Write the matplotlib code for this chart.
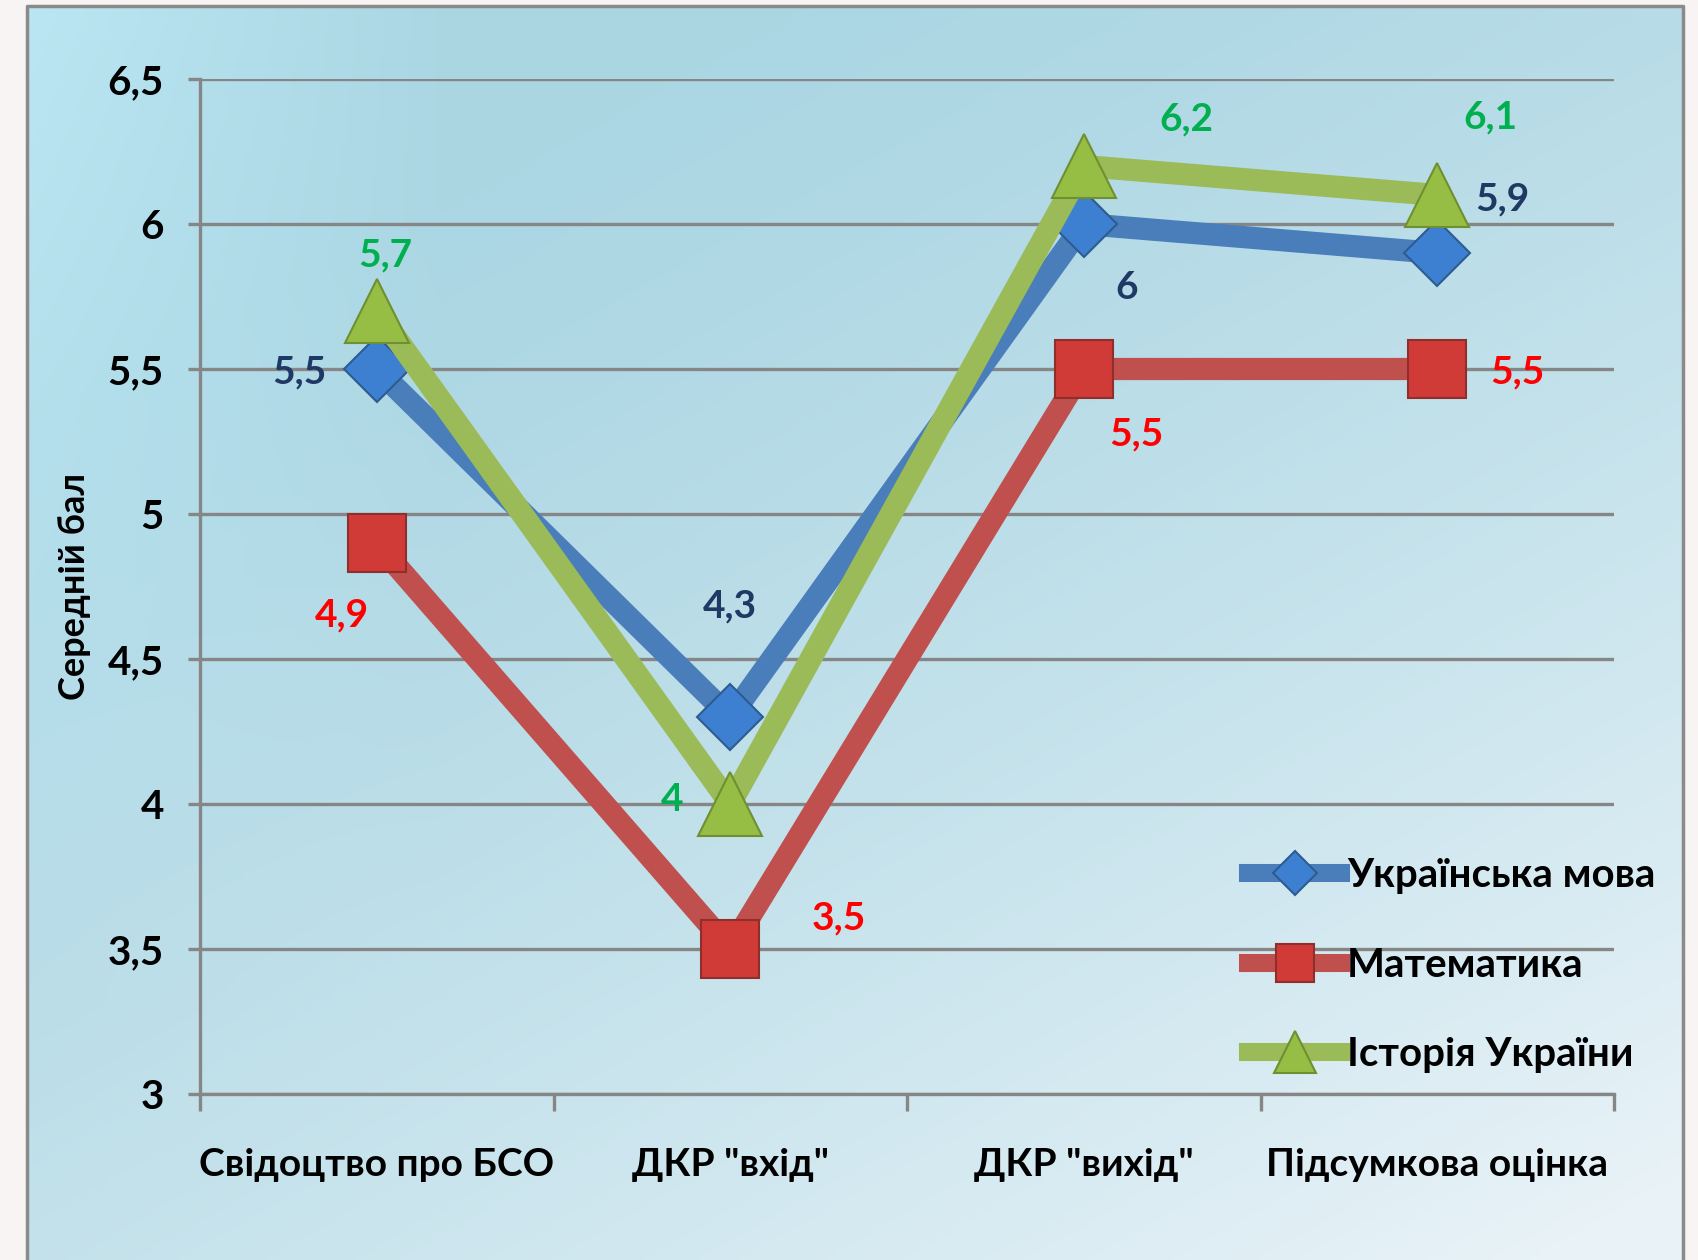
import numpy as np
import matplotlib
matplotlib.use('Agg')
import matplotlib.pyplot as plt
from matplotlib.patches import Rectangle
from matplotlib.ticker import FixedLocator

plt.rcParams['font.family'] = ['Lato', 'Noto Sans', 'DejaVu Sans']
plt.rcParams['font.weight'] = 'bold'
plt.rcParams['axes.labelweight'] = 'bold'

categories = ['Свідоцтво про БСО', 'ДКР "вхід"', 'ДКР "вихід"', 'Підсумкова оцінка']
ukr = [5.5, 4.3, 6.0, 5.9]
math_ = [4.9, 3.5, 5.5, 5.5]
hist = [5.7, 4.0, 6.2, 6.1]
ukr_labels = ['5,5', '4,3', '6', '5,9']
math_labels = ['4,9', '3,5', '5,5', '5,5']
hist_labels = ['5,7', '4', '6,2', '6,1']
y_ticks = [3, 3.5, 4, 4.5, 5, 5.5, 6, 6.5]
y_tick_labels = ['3', '3,5', '4', '4,5', '5', '5,5', '6', '6,5']

# offsets of the value labels (points)
ukr_off = [(-56, -2), (0, 80), (31, -46), (47, 39)]
math_off = [(-25, -52), (78, 22), (38, -47), (58, -2)]
hist_off = [(6, 40), (-42, 3), (74, 34), (38, 56)]

fig = plt.figure(figsize=(16.98, 12.6), dpi=100)

# background panel with gradient
bg = fig.add_axes([0, 0, 1, 1])
bg.set_xlim(0, 1)
bg.set_ylim(0, 1)
bg.axis('off')
bg.add_patch(Rectangle((0, 0), 1, 1, color='#f8f4f3', zorder=0))
h, w = 300, 400
yy, xx = np.mgrid[0:h, 0:w]
xn = xx / (w - 1)
yn = yy / (h - 1)  # 0 at top
t = np.clip(0.55 * xn + 0.75 * yn - 0.25, 0, 1) ** 1.3
c1 = np.array([0.67, 0.84, 0.89])
c2 = np.array([0.91, 0.95, 0.97])
img = c1 * (1 - t[..., None]) + c2 * t[..., None]
edge = np.clip(1 - xn / 0.25, 0, 1) * np.clip(1 - yn / 0.8, 0, 1)
img = img + 0.06 * edge[..., None]
img = np.clip(img, 0, 1)
x0, x1 = 27 / 1698, 1683 / 1698
y1 = 1 - 6 / 1260
bg.imshow(img, extent=[x0, x1, 0, y1], aspect='auto', zorder=1)
bg.plot([x0, x0, x1, x1], [0, y1, y1, 0], color='#8a8a8a', lw=2.5, zorder=2)

ax = fig.add_axes([200 / 1698, 1 - 1094 / 1260, 1414 / 1698, (1094 - 79) / 1260])
ax.set_facecolor('none')
x = np.arange(len(categories))

ax.set_ylim(3, 6.5)
ax.set_xlim(-0.5, 3.5)
ax.yaxis.set_major_locator(FixedLocator(y_ticks))
ax.set_yticklabels(y_tick_labels)
ax.set_xticks(x)
ax.set_xticklabels(categories)
ax.set_xticks(np.arange(-0.5, 4, 1), minor=True)
ax.tick_params(axis='x', which='major', length=0, labelsize=28, pad=38)
ax.tick_params(axis='x', which='minor', length=12, width=2.4, color='#868686')
ax.tick_params(axis='y', length=9, width=2.4, color='#868686', labelsize=29, pad=17)
ax.grid(axis='y', color='#868686', lw=2.4, zorder=1)
for s in ['top', 'right']:
    ax.spines[s].set_visible(False)
ax.spines['left'].set_color('#868686')
ax.spines['left'].set_linewidth(2.4)
ax.spines['bottom'].set_color('#868686')
ax.spines['bottom'].set_linewidth(2.4)
ax.set_ylabel('Середній бал', fontsize=26, fontweight='bold', labelpad=12)

ax.plot(x, math_, color='#c0504d', lw=16, marker='s', ms=42,
        mfc='#d03a37', mec='#8f2f2c', mew=1.5, zorder=3, label='Математика')
ax.plot(x, ukr, color='#4a7ebb', lw=16, marker='D', ms=34,
        mfc='#3d7fd0', mec='#2d5c91', mew=1.5, zorder=4, label='Українська мова')
ax.plot(x, hist, color='#9bbb59', lw=16, marker='^', ms=46,
        mfc='#96bd44', mec='#6f8f30', mew=1.5, zorder=5, label='Історія України')

for vals, labs, offs, col in [(ukr, ukr_labels, ukr_off, '#1f3864'),
                              (math_, math_labels, math_off, '#ff0000'),
                              (hist, hist_labels, hist_off, '#00b050')]:
    for xi, v, lab, off in zip(x, vals, labs, offs):
        ax.annotate(lab, (xi, v), xytext=off, textcoords='offset points',
                    ha='center', va='center', fontsize=28, color=col, zorder=6)

handles, labels = ax.get_legend_handles_labels()
order = [1, 0, 2]
leg = ax.legend([handles[i] for i in order], [labels[i] for i in order],
                loc='lower right', bbox_to_anchor=(1.055, -0.015), frameon=False,
                fontsize=29, markerscale=0.65, handlelength=2.3, handletextpad=0.15,
                labelspacing=1.3)
for line in leg.get_lines():
    line.set_linewidth(13)

fig.savefig('out.png', dpi=100)
